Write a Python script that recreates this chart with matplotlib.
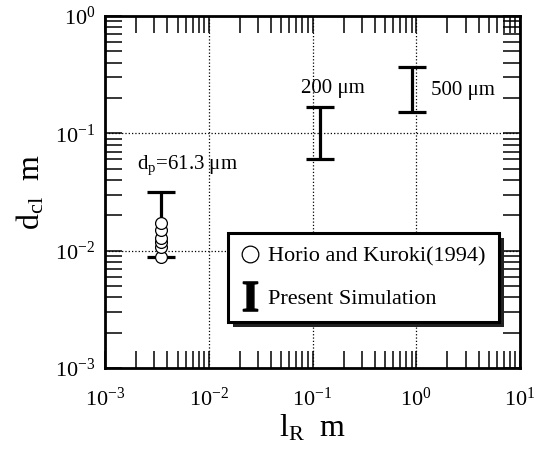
import matplotlib
matplotlib.use("Agg")
import matplotlib.pyplot as plt
import matplotlib.ticker as ticker
from matplotlib.patches import Rectangle
from matplotlib.lines import Line2D
import numpy as np

plt.rcParams['font.family'] = ['Liberation Serif', 'DejaVu Serif']
plt.rcParams['mathtext.fontset'] = 'custom'
plt.rcParams['mathtext.rm'] = 'Liberation Serif'
plt.rcParams['mathtext.it'] = 'Liberation Serif:italic'
plt.rcParams['mathtext.bf'] = 'Liberation Serif:bold'

# Present simulation: range of cluster size for each particle diameter
sim_labels = ["d$_{\\rm p}$=61.3 \u03bcm", "200 \u03bcm", "500 \u03bcm"]
sim_lr = [3.5e-3, 0.117, 0.92]
sim_low = [0.0089, 0.060, 0.151]
sim_high = [0.0314, 0.169, 0.37]

# Horio and Kuroki (1994)
exp_lr = [3.5e-3, 3.5e-3, 3.5e-3, 3.5e-3, 3.5e-3, 3.5e-3]
exp_dcl = [0.0088, 0.0108, 0.0118, 0.0128, 0.0150, 0.0173]

# label positions (data coords)
label_x = [6.2e-3, 0.156, 2.84]
label_y = [0.0537, 0.243, 0.23]

fig = plt.figure(figsize=(5.46, 4.5), dpi=100)
ax = fig.add_axes([0.1923, 0.1822, 0.7601, 0.7822])

ax.set_xscale('log')
ax.set_yscale('log')
ax.set_xlim(1e-3, 1e1)
ax.set_ylim(1e-3, 1e0)

mid = np.sqrt(np.array(sim_low) * np.array(sim_high))
yerr = [mid - np.array(sim_low), np.array(sim_high) - mid]
eb = ax.errorbar(sim_lr, mid, yerr=yerr, fmt='none', ecolor='black',
                 elinewidth=2.3, capsize=10, capthick=2.3, zorder=3)

ax.plot(exp_lr, exp_dcl, 'o', markersize=8.5, markerfacecolor='white',
        markeredgecolor='black', markeredgewidth=0.9, linestyle='none', zorder=4)

for lab, lx, ly in zip(sim_labels, label_x, label_y):
    ax.text(lx, ly, lab, ha='center', va='center', fontsize=15)

ax.grid(True, which='major', linestyle=':', color='black', linewidth=0.9)

fmt = ticker.FuncFormatter(lambda v, p: r'$10^{%d}$' % int(round(np.log10(v))))
ax.xaxis.set_major_formatter(fmt)
ax.yaxis.set_major_formatter(fmt)
ax.xaxis.set_major_locator(ticker.LogLocator(base=10, numticks=10))
ax.yaxis.set_major_locator(ticker.LogLocator(base=10, numticks=10))
ax.xaxis.set_minor_locator(ticker.LogLocator(base=10, subs=np.arange(2, 10), numticks=20))
ax.yaxis.set_minor_locator(ticker.LogLocator(base=10, subs=np.arange(2, 10), numticks=20))
ax.xaxis.set_minor_formatter(ticker.NullFormatter())
ax.yaxis.set_minor_formatter(ticker.NullFormatter())

ax.tick_params(which='both', direction='in', top=True, right=True,
               length=12, width=1.1, labelsize=16)
ax.tick_params(axis='x', which='major', pad=14)
ax.tick_params(axis='y', which='major', pad=7)
for s in ax.spines.values():
    s.set_linewidth(2.0)

ax.set_xlabel("l$_{\\rm R}$  m", fontsize=23, labelpad=2)
ax.set_ylabel("d$_{\\rm cl}$  m", fontsize=23, labelpad=6)

circ = Line2D([], [], marker='o', markersize=12, markerfacecolor='white',
              markeredgecolor='black', markeredgewidth=0.9, linestyle='none')
ibar = Line2D([], [], marker=r'$\mathbf{I}$', markersize=21, color='black',
              linestyle='none')
leg = ax.legend([circ, ibar], ["Horio and Kuroki(1994)", "Present Simulation"],
                loc='lower left', bbox_to_anchor=(0.296, 0.131), fontsize=16,
                frameon=True, fancybox=False, edgecolor='black', framealpha=1,
                borderpad=0.6, handlelength=0.8, handletextpad=0.4,
                labelspacing=0.95, borderaxespad=0)
leg.get_frame().set_linewidth(2.2)
leg.set_zorder(6)

# dark drop shadow behind the legend box
fig.canvas.draw()
bb = leg.get_window_extent().transformed(fig.transFigure.inverted())
dx, dy = 5 / 546, -5 / 450
fig.add_artist(Rectangle((bb.x0 + dx, bb.y0 + dy), bb.width, bb.height,
                         transform=fig.transFigure, facecolor='#222222',
                         edgecolor='none', zorder=5))
leg.remove()
fig.add_artist(leg)

fig.savefig("out.png", dpi=100)
